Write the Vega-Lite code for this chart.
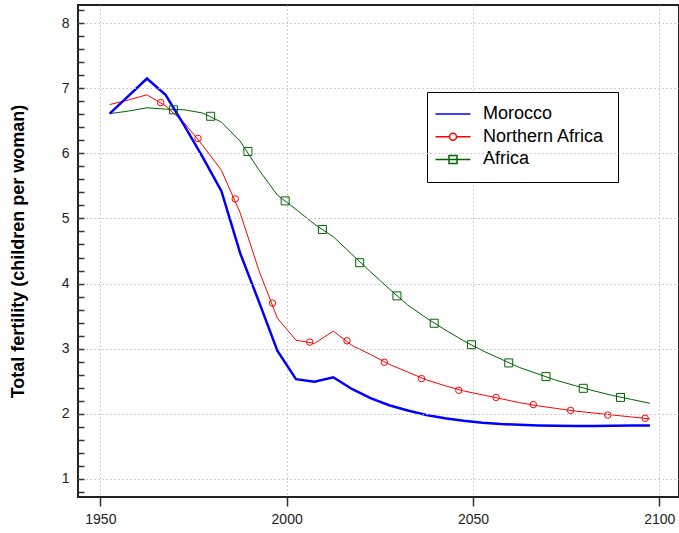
{
  "$schema": "https://vega.github.io/schema/vega-lite/v6.json",
  "width": 601,
  "height": 492,
  "autosize": {"type": "none"},
  "padding": {"left": 78, "top": 5, "right": 0, "bottom": 36},
  "background": "white",
  "config": {
    "view": {"stroke": "#222222", "strokeWidth": 2},
    "font": "Liberation Sans",
    "axis": {"domain": false, "labelFont": "Liberation Sans", "labelColor": "#222222", "labelFontSize": 14, "gridColor": "#c0c0c0", "gridDash": [1.5, 2.5], "gridWidth": 1, "tickColor": "#333333", "tickWidth": 1.5}
  },
  "datasets": {
    "lines": [
      {"series": "Morocco", "year": 1952.5, "tfr": 6.61},
      {"series": "Morocco", "year": 1957.5, "tfr": 6.88},
      {"series": "Morocco", "year": 1962.5, "tfr": 7.15},
      {"series": "Morocco", "year": 1967.5, "tfr": 6.90},
      {"series": "Morocco", "year": 1972.5, "tfr": 6.43},
      {"series": "Morocco", "year": 1977.5, "tfr": 5.94},
      {"series": "Morocco", "year": 1982.5, "tfr": 5.42},
      {"series": "Morocco", "year": 1987.5, "tfr": 4.47},
      {"series": "Morocco", "year": 1992.5, "tfr": 3.73},
      {"series": "Morocco", "year": 1997.5, "tfr": 2.97},
      {"series": "Morocco", "year": 2002.5, "tfr": 2.53},
      {"series": "Morocco", "year": 2007.5, "tfr": 2.49},
      {"series": "Morocco", "year": 2012.5, "tfr": 2.56},
      {"series": "Morocco", "year": 2017.5, "tfr": 2.38},
      {"series": "Morocco", "year": 2022.5, "tfr": 2.24},
      {"series": "Morocco", "year": 2027.5, "tfr": 2.13},
      {"series": "Morocco", "year": 2032.5, "tfr": 2.05},
      {"series": "Morocco", "year": 2037.5, "tfr": 1.98},
      {"series": "Morocco", "year": 2042.5, "tfr": 1.93},
      {"series": "Morocco", "year": 2047.5, "tfr": 1.89},
      {"series": "Morocco", "year": 2052.5, "tfr": 1.86},
      {"series": "Morocco", "year": 2057.5, "tfr": 1.84},
      {"series": "Morocco", "year": 2062.5, "tfr": 1.83},
      {"series": "Morocco", "year": 2067.5, "tfr": 1.82},
      {"series": "Morocco", "year": 2072.5, "tfr": 1.815},
      {"series": "Morocco", "year": 2077.5, "tfr": 1.81},
      {"series": "Morocco", "year": 2082.5, "tfr": 1.81},
      {"series": "Morocco", "year": 2087.5, "tfr": 1.815},
      {"series": "Morocco", "year": 2092.5, "tfr": 1.82},
      {"series": "Morocco", "year": 2097.5, "tfr": 1.82},
      {"series": "Northern Africa", "year": 1952.5, "tfr": 6.75},
      {"series": "Northern Africa", "year": 1957.5, "tfr": 6.82},
      {"series": "Northern Africa", "year": 1962.5, "tfr": 6.90},
      {"series": "Northern Africa", "year": 1967.5, "tfr": 6.73},
      {"series": "Northern Africa", "year": 1972.5, "tfr": 6.47},
      {"series": "Northern Africa", "year": 1977.5, "tfr": 6.12},
      {"series": "Northern Africa", "year": 1982.5, "tfr": 5.74},
      {"series": "Northern Africa", "year": 1987.5, "tfr": 5.09},
      {"series": "Northern Africa", "year": 1992.5, "tfr": 4.21},
      {"series": "Northern Africa", "year": 1997.5, "tfr": 3.47},
      {"series": "Northern Africa", "year": 2002.5, "tfr": 3.13},
      {"series": "Northern Africa", "year": 2007.5, "tfr": 3.08},
      {"series": "Northern Africa", "year": 2012.5, "tfr": 3.27},
      {"series": "Northern Africa", "year": 2017.5, "tfr": 3.05},
      {"series": "Northern Africa", "year": 2022.5, "tfr": 2.91},
      {"series": "Northern Africa", "year": 2027.5, "tfr": 2.76},
      {"series": "Northern Africa", "year": 2032.5, "tfr": 2.64},
      {"series": "Northern Africa", "year": 2037.5, "tfr": 2.52},
      {"series": "Northern Africa", "year": 2042.5, "tfr": 2.43},
      {"series": "Northern Africa", "year": 2047.5, "tfr": 2.35},
      {"series": "Northern Africa", "year": 2052.5, "tfr": 2.29},
      {"series": "Northern Africa", "year": 2057.5, "tfr": 2.23},
      {"series": "Northern Africa", "year": 2062.5, "tfr": 2.17},
      {"series": "Northern Africa", "year": 2067.5, "tfr": 2.12},
      {"series": "Northern Africa", "year": 2072.5, "tfr": 2.08},
      {"series": "Northern Africa", "year": 2077.5, "tfr": 2.04},
      {"series": "Northern Africa", "year": 2082.5, "tfr": 2.01},
      {"series": "Northern Africa", "year": 2087.5, "tfr": 1.98},
      {"series": "Northern Africa", "year": 2092.5, "tfr": 1.95},
      {"series": "Northern Africa", "year": 2097.5, "tfr": 1.92},
      {"series": "Africa", "year": 1952.5, "tfr": 6.61},
      {"series": "Africa", "year": 1957.5, "tfr": 6.65},
      {"series": "Africa", "year": 1962.5, "tfr": 6.70},
      {"series": "Africa", "year": 1967.5, "tfr": 6.68},
      {"series": "Africa", "year": 1972.5, "tfr": 6.67},
      {"series": "Africa", "year": 1977.5, "tfr": 6.62},
      {"series": "Africa", "year": 1982.5, "tfr": 6.48},
      {"series": "Africa", "year": 1987.5, "tfr": 6.19},
      {"series": "Africa", "year": 1992.5, "tfr": 5.75},
      {"series": "Africa", "year": 1997.5, "tfr": 5.36},
      {"series": "Africa", "year": 2002.5, "tfr": 5.14},
      {"series": "Africa", "year": 2007.5, "tfr": 4.91},
      {"series": "Africa", "year": 2012.5, "tfr": 4.72},
      {"series": "Africa", "year": 2017.5, "tfr": 4.45},
      {"series": "Africa", "year": 2022.5, "tfr": 4.18},
      {"series": "Africa", "year": 2027.5, "tfr": 3.92},
      {"series": "Africa", "year": 2032.5, "tfr": 3.67},
      {"series": "Africa", "year": 2037.5, "tfr": 3.47},
      {"series": "Africa", "year": 2042.5, "tfr": 3.29},
      {"series": "Africa", "year": 2047.5, "tfr": 3.12},
      {"series": "Africa", "year": 2052.5, "tfr": 2.97},
      {"series": "Africa", "year": 2057.5, "tfr": 2.84},
      {"series": "Africa", "year": 2062.5, "tfr": 2.71},
      {"series": "Africa", "year": 2067.5, "tfr": 2.61},
      {"series": "Africa", "year": 2072.5, "tfr": 2.51},
      {"series": "Africa", "year": 2077.5, "tfr": 2.43},
      {"series": "Africa", "year": 2082.5, "tfr": 2.35},
      {"series": "Africa", "year": 2087.5, "tfr": 2.28},
      {"series": "Africa", "year": 2092.5, "tfr": 2.22},
      {"series": "Africa", "year": 2097.5, "tfr": 2.16}
    ],
    "markers": [
      {"series": "Northern Africa", "year": 1966.2, "tfr": 6.78},
      {"series": "Northern Africa", "year": 1976.2, "tfr": 6.23},
      {"series": "Northern Africa", "year": 1986.2, "tfr": 5.30},
      {"series": "Northern Africa", "year": 1996.2, "tfr": 3.70},
      {"series": "Northern Africa", "year": 2006.2, "tfr": 3.10},
      {"series": "Northern Africa", "year": 2016.2, "tfr": 3.12},
      {"series": "Northern Africa", "year": 2026.2, "tfr": 2.79},
      {"series": "Northern Africa", "year": 2036.2, "tfr": 2.54},
      {"series": "Northern Africa", "year": 2046.2, "tfr": 2.36},
      {"series": "Northern Africa", "year": 2056.2, "tfr": 2.25},
      {"series": "Northern Africa", "year": 2066.2, "tfr": 2.14},
      {"series": "Northern Africa", "year": 2076.2, "tfr": 2.05},
      {"series": "Northern Africa", "year": 2086.2, "tfr": 1.98},
      {"series": "Northern Africa", "year": 2096.2, "tfr": 1.93},
      {"series": "Africa", "year": 1969.6, "tfr": 6.67},
      {"series": "Africa", "year": 1979.6, "tfr": 6.57},
      {"series": "Africa", "year": 1989.6, "tfr": 6.03},
      {"series": "Africa", "year": 1999.6, "tfr": 5.27},
      {"series": "Africa", "year": 2009.6, "tfr": 4.83},
      {"series": "Africa", "year": 2019.6, "tfr": 4.32},
      {"series": "Africa", "year": 2029.6, "tfr": 3.81},
      {"series": "Africa", "year": 2039.6, "tfr": 3.39},
      {"series": "Africa", "year": 2049.6, "tfr": 3.06},
      {"series": "Africa", "year": 2059.6, "tfr": 2.78},
      {"series": "Africa", "year": 2069.6, "tfr": 2.57},
      {"series": "Africa", "year": 2079.6, "tfr": 2.39},
      {"series": "Africa", "year": 2089.6, "tfr": 2.25}
    ]
  },
  "encoding": {
    "x": {
      "field": "year", "type": "quantitative",
      "scale": {"domain": [1944, 2105.3], "nice": false, "zero": false},
      "axis": {"title": null, "values": [1950, 2000, 2050, 2100], "format": "d", "grid": true, "tickSize": 9, "labelPadding": 6}
    },
    "y": {
      "field": "tfr", "type": "quantitative",
      "scale": {"domain": [0.72, 8.28], "nice": false, "zero": false},
      "axis": {
        "title": "Total fertility (children per woman)",
        "titleFontSize": 18, "titleFontWeight": "bold", "titleColor": "#000000", "titleFont": "Liberation Sans", "titlePadding": 34,
        "values": [0.8, 1, 1.2, 1.4, 1.6, 1.8, 2, 2.2, 2.4, 2.6, 2.8, 3, 3.2, 3.4, 3.6, 3.8, 4, 4.2, 4.4, 4.6, 4.8, 5, 5.2, 5.4, 5.6, 5.8, 6, 6.2, 6.4, 6.6, 6.8, 7, 7.2, 7.4, 7.6, 7.8, 8, 8.2],
        "labelExpr": "abs(datum.value - round(datum.value)) < 0.01 ? format(datum.value, 'd') : ''",
        "grid": true,
        "ticks": true,
        "zindex": 1,
        "gridOpacity": {"condition": {"test": "abs(datum.value - round(datum.value)) < 0.01", "value": 1}, "value": 0},
        "tickSize": -6,
        "labelPadding": 15
      }
    }
  },
  "layer": [
    {
      "data": {"name": "lines"},
      "transform": [{"filter": "datum.series === 'Africa'"}],
      "mark": {"type": "line", "strokeWidth": 1, "color": "#006400"}
    },
    {
      "data": {"name": "lines"},
      "transform": [{"filter": "datum.series === 'Northern Africa'"}],
      "mark": {"type": "line", "strokeWidth": 1, "color": "#ff0000"}
    },
    {
      "data": {"name": "lines"},
      "transform": [{"filter": "datum.series === 'Morocco'"}],
      "mark": {"type": "line", "strokeWidth": 2.5, "color": "#0000ff"}
    },
    {
      "data": {"name": "markers"},
      "transform": [{"filter": "datum.series === 'Northern Africa'"}],
      "mark": {"type": "point", "shape": "circle", "filled": false, "size": 42, "strokeWidth": 1, "opacity": 1, "color": "#ff0000"}
    },
    {
      "data": {"name": "markers"},
      "transform": [{"filter": "datum.series === 'Africa'"}],
      "mark": {"type": "point", "shape": "square", "filled": false, "size": 64, "strokeWidth": 1, "opacity": 1, "color": "#006400"}
    },
    {
      "data": {"name": "lines"},
      "mark": {"type": "point", "filled": false, "opacity": 0},
      "encoding": {
        "color": {
          "field": "series", "type": "nominal",
          "scale": {"domain": ["Morocco", "Northern Africa", "Africa"], "range": ["#0000ff", "#ff0000", "#006400"]},
          "legend": {
            "title": null, "orient": "none", "legendX": 349, "legendY": 87,
            "fillColor": "white", "strokeColor": "#000000", "padding": 13, "cornerRadius": 0,
            "labelFontSize": 18, "labelFont": "Liberation Sans", "labelColor": "#000000", "labelOffset": 25,
            "symbolSize": 100, "rowPadding": 4.7, "symbolOpacity": 1,
            "encode": {"symbols": {"update": {"strokeWidth": {"signal": "datum.value === 'Morocco' ? 2.5 : 1"}}}}
          }
        },
        "shape": {
          "field": "series", "type": "nominal",
          "scale": {"domain": ["Morocco", "Northern Africa", "Africa"], "range": ["M-2.7,0H4.3", "M-2.7,0H0.1M1.5,0H4.3M0.1,0A0.7,0.7,0,1,0,1.5,0A0.7,0.7,0,1,0,0.1,0", "M-2.7,0H4.3M0,-0.8H1.6V0.8H0Z"]},
          "legend": {
            "title": null, "orient": "none", "legendX": 349, "legendY": 87,
            "fillColor": "white", "strokeColor": "#000000", "padding": 13, "cornerRadius": 0,
            "labelFontSize": 18, "labelFont": "Liberation Sans", "labelColor": "#000000", "labelOffset": 25,
            "symbolSize": 100, "rowPadding": 4.7, "symbolOpacity": 1,
            "encode": {"symbols": {"update": {"strokeWidth": {"signal": "datum.value === 'Morocco' ? 2.5 : 1"}}}}
          }
        }
      }
    }
  ]
}
